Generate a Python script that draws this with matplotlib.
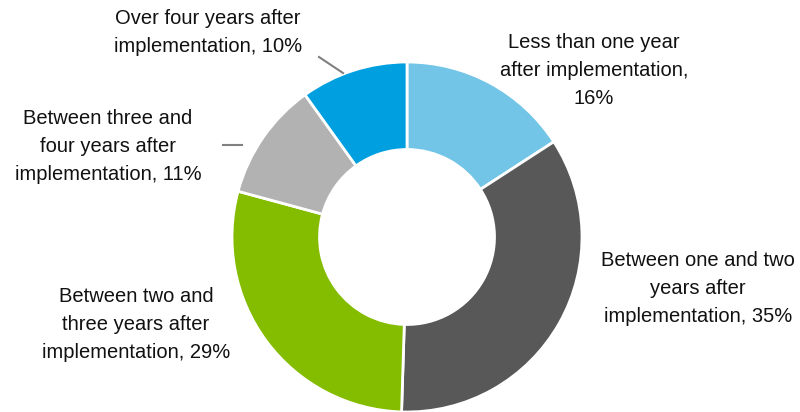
import matplotlib
matplotlib.use("Agg")
import matplotlib.pyplot as plt

# Share of benefits realised, by time after implementation
categories = [
    "Less than one year\nafter implementation,\n16%",
    "Between one and two\nyears after\nimplementation, 35%",
    "Between two and\nthree years after\nimplementation, 29%",
    "Between three and\nfour years after\nimplementation, 11%",
    "Over four years after\nimplementation, 10%",
]
values = [16, 35, 29, 11, 10]
colors = ["#72C5E6", "#585858", "#84BC00", "#B2B2B2", "#009FDF"]

# label centres in pixels (x from left, y from top)
label_px = [(594, 70), (698, 289), (136, 325), (108, 147), (208, 33)]

W, H = 800, 412
cx, cy, R = 407, 237, 175


def to_data(px, py):
    return (px - cx) / R, (cy - py) / R


plt.rcParams["font.family"] = ["Liberation Sans", "DejaVu Sans"]

fig = plt.figure(figsize=(W / 100, H / 100), dpi=100)
ax = fig.add_axes([0, 0, 1, 1])

ax.pie(values, colors=colors, startangle=90, counterclock=False, radius=1,
       wedgeprops=dict(width=0.5, edgecolor="white", linewidth=2))

for text, (px, py) in zip(categories, label_px):
    x, y = to_data(px, py)
    ax.text(x, y, text, ha="center", va="center", fontsize=14.5,
            color="#111111", linespacing=1.6)

# leader lines for the two small slices
for (x0, y0), (x1, y1) in [((319, 57), (343, 73)), ((223, 145), (242, 145))]:
    a, b = to_data(x0, y0)
    c, d = to_data(x1, y1)
    ax.plot([a, c], [b, d], color="#808080", lw=1.5)

ax.set_xlim(-cx / R, (W - cx) / R)
ax.set_ylim(-(H - cy) / R, cy / R)
ax.set_aspect("equal")
ax.axis("off")

fig.savefig("out.png", dpi=100)
